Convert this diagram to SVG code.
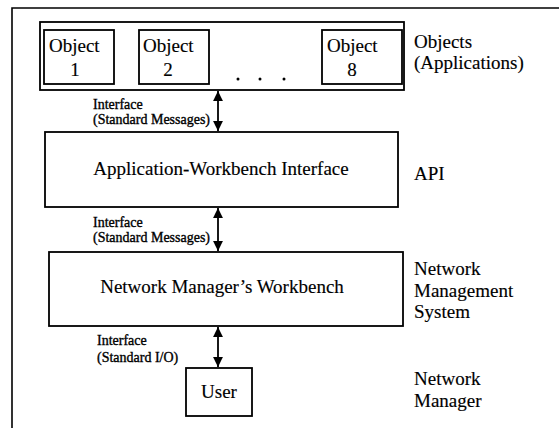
<svg xmlns="http://www.w3.org/2000/svg" width="559" height="428" viewBox="0 0 559 428">
  <style>
    .box { fill: #fff; stroke: #000; stroke-width: 1.8; }
    .frame { fill: none; stroke: #000; stroke-width: 1.6; }
    .lbl { font-family: "Liberation Serif", "DejaVu Serif", serif; font-size: 19px; fill: #000; stroke: #000; stroke-width: 0.15; }
    .sm { font-family: "Liberation Serif", "DejaVu Serif", serif; font-size: 14px; fill: #000; stroke: #000; stroke-width: 0.35; }
    .conn { stroke: #000; stroke-width: 1.8; fill: none; marker-start: url(#head); marker-end: url(#head); }
  </style>
  <defs>
    <marker id="head" viewBox="0 0 10 10" refX="10" refY="5" markerWidth="5.5" markerHeight="6" markerUnits="strokeWidth" orient="auto-start-reverse">
      <path d="M0,0 L10,5 L0,10 Z" fill="#000"/>
    </marker>
  </defs>

  <rect width="559" height="428" fill="#fff"/>

  <!-- open outer frame: top and left edges only -->
  <path class="frame" d="M12,428 V8 H559"/>

  <g id="objects">
    <rect class="box" x="40" y="22" width="364" height="68"/>
    <g id="object-1">
      <rect class="box" x="44" y="30" width="70" height="54"/>
      <text class="lbl" x="49" y="52">Object</text>
      <text class="lbl" x="75" y="76" text-anchor="middle">1</text>
    </g>
    <g id="object-2">
      <rect class="box" x="139" y="30" width="70" height="54"/>
      <text class="lbl" x="143" y="52">Object</text>
      <text class="lbl" x="168" y="76" text-anchor="middle">2</text>
    </g>
    <g id="ellipsis">
      <circle cx="238" cy="79" r="1.5" fill="#000"/>
      <circle cx="260" cy="79" r="1.5" fill="#000"/>
      <circle cx="284" cy="79" r="1.5" fill="#000"/>
    </g>
    <g id="object-8">
      <rect class="box" x="322" y="30" width="80" height="54"/>
      <text class="lbl" x="327" y="52">Object</text>
      <text class="lbl" x="352" y="76" text-anchor="middle">8</text>
    </g>
  </g>

  <g id="api">
    <rect class="box" x="45" y="132" width="353" height="75"/>
    <text class="lbl" x="221" y="175" text-anchor="middle">Application-Workbench Interface</text>
  </g>

  <g id="workbench">
    <rect class="box" x="49" y="252" width="354" height="74"/>
    <text class="lbl" x="222" y="293" text-anchor="middle">Network Manager’s Workbench</text>
  </g>

  <g id="user">
    <rect class="box" x="186" y="368" width="66" height="48"/>
    <text class="lbl" x="219" y="398" text-anchor="middle">User</text>
  </g>

  <g id="connectors">
    <line class="conn" x1="218" y1="91" x2="218" y2="131"/>
    <line class="conn" x1="218" y1="208" x2="218" y2="251"/>
    <line class="conn" x1="218" y1="327" x2="218" y2="367"/>
    <text class="sm" x="93" y="109">Interface</text>
    <text class="sm" x="93" y="124">(Standard Messages)</text>
    <text class="sm" x="93" y="227">Interface</text>
    <text class="sm" x="93" y="242">(Standard Messages)</text>
    <text class="sm" x="97" y="345">Interface</text>
    <text class="sm" x="97" y="362">(Standard I/O)</text>
  </g>

  <g id="layer-labels">
    <text class="lbl" x="414" y="48">Objects</text>
    <text class="lbl" x="414" y="69">(Applications)</text>
    <text class="lbl" x="414" y="180">API</text>
    <text class="lbl" x="414" y="275">Network</text>
    <text class="lbl" x="414" y="297">Management</text>
    <text class="lbl" x="414" y="318">System</text>
    <text class="lbl" x="414" y="385">Network</text>
    <text class="lbl" x="414" y="407">Manager</text>
  </g>
</svg>
